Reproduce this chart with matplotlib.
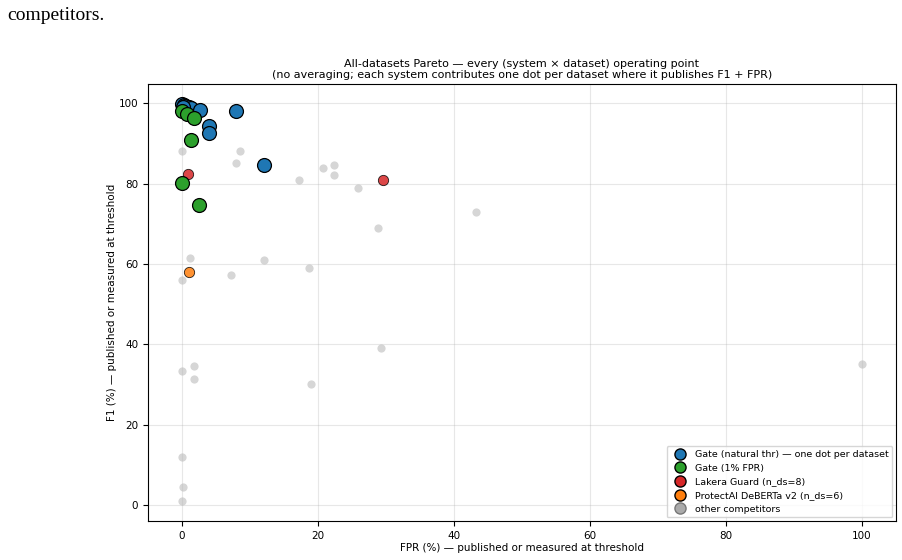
import matplotlib
matplotlib.use("Agg")
import matplotlib.pyplot as plt
from matplotlib.lines import Line2D

# Gate at natural threshold: (FPR %, F1 %)
gate_nat_fpr = [0.0, 0.3, 0.5, 1.0, 1.3, 0.2, 2.6, 8.0, 4.0, 4.0, 12.0]
gate_nat_f1 = [99.8, 99.5, 99.3, 99.0, 98.8, 98.9, 98.3, 97.9, 94.2, 92.5, 84.6]

# Gate at 1% FPR
gate_1_fpr = [0.0, 0.7, 1.7, 1.3, 0.0, 2.5]
gate_1_f1 = [98.1, 97.4, 96.4, 90.9, 80.2, 74.6]

lakera_fpr = [0.8, 29.6]
lakera_f1 = [82.3, 80.9]

protectai_fpr = [1.0]
protectai_f1 = [58.0]

other_fpr = [0.0, 8.5, 7.9, 20.7, 22.4, 22.4, 17.25, 25.9, 43.2, 28.8, 18.7,
             29.3, 1.2, 12.1, 0.0, 7.25, 0.0, 1.8, 1.8, 19.0, 0.0, 0.2, 0.0, 100.0]
other_f1 = [88.1, 88.1, 85.2, 83.8, 84.6, 82.2, 80.8, 79.0, 72.9, 68.9, 58.9,
            39.1, 61.4, 61.1, 56.1, 57.3, 33.4, 34.7, 31.3, 30.1, 12.0, 4.6, 1.1, 35.1]

fig = plt.figure(figsize=(9.03, 5.6), dpi=100)
ax = fig.add_axes([0.164, 0.070, 0.828, 0.780])

ax.scatter(other_fpr, other_f1, s=35, color="#bbbbbb", alpha=0.6, zorder=2, linewidths=0)
ax.scatter(protectai_fpr, protectai_f1, s=55, color="#ff7f0e", edgecolor="k",
           linewidths=0.6, alpha=0.85, zorder=3)
ax.scatter(lakera_fpr, lakera_f1, s=55, color="#d62728", edgecolor="k",
           linewidths=0.6, alpha=0.85, zorder=3)
ax.scatter(gate_nat_fpr, gate_nat_f1, s=100, color="#1f77b4", edgecolor="k",
           linewidths=0.9, zorder=4)
ax.scatter(gate_1_fpr, gate_1_f1, s=100, color="#2ca02c", edgecolor="k",
           linewidths=0.9, zorder=5)

ax.grid(True, alpha=0.3)
ax.set_xlabel("FPR (%) — published or measured at threshold", fontsize=7.5, labelpad=2)
ax.set_ylabel("F1 (%) — published or measured at threshold", fontsize=7.5, labelpad=1)
ax.set_title("All-datasets Pareto — every (system × dataset) operating point\n"
             "(no averaging; each system contributes one dot per dataset where it publishes F1 + FPR)",
             fontsize=8, pad=4)
ax.tick_params(labelsize=7.5)

handles = [
    Line2D([], [], marker="o", ls="", markersize=8, markerfacecolor="#1f77b4",
           markeredgecolor="k", label="Gate (natural thr) — one dot per dataset"),
    Line2D([], [], marker="o", ls="", markersize=8, markerfacecolor="#2ca02c",
           markeredgecolor="k", label="Gate (1% FPR)"),
    Line2D([], [], marker="o", ls="", markersize=8, markerfacecolor="#d62728",
           markeredgecolor="k", label="Lakera Guard (n_ds=8)"),
    Line2D([], [], marker="o", ls="", markersize=8, markerfacecolor="#ff7f0e",
           markeredgecolor="k", label="ProtectAI DeBERTa v2 (n_ds=6)"),
    Line2D([], [], marker="o", ls="", markersize=8, markerfacecolor="#aaaaaa",
           markeredgecolor="#777777", label="other competitors"),
]
ax.legend(handles=handles, loc="lower right", fontsize=6.8, handletextpad=0.6,
          borderaxespad=0.35)

fig.text(0.008, 0.972, "competitors.", family="Liberation Serif", fontsize=14,
         va="center", ha="left")

fig.savefig("out.png", dpi=100)
